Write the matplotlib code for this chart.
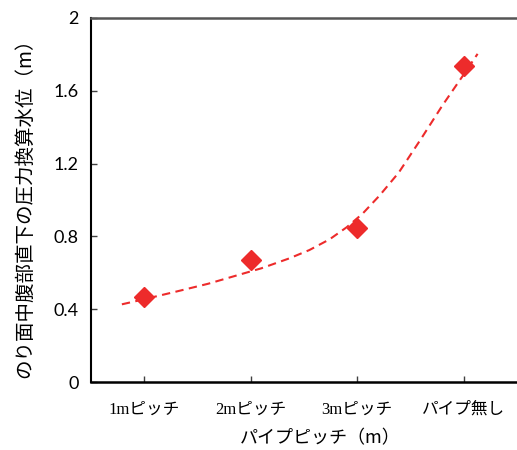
import numpy as np
import matplotlib
matplotlib.use("Agg")
import matplotlib.pyplot as plt

plt.rcParams['font.family'] = ['Lato', 'Noto Sans CJK JP', 'DejaVu Sans']

# measured water level per pipe pitch
categories = ['1mピッチ', '2mピッチ', '3mピッチ', 'パイプ無し']
levels = [0.466, 0.668, 0.848, 1.737]

# dashed trend curve
trend_x = [0.79, 1.0, 1.3, 1.6, 1.87, 2.1, 2.36, 2.55, 2.74, 2.9, 3.05, 3.21, 3.39, 3.6, 3.8, 4.0, 4.13]
trend_y = [0.427, 0.455, 0.497, 0.54, 0.586, 0.625, 0.679, 0.725, 0.784, 0.85, 0.925, 1.025, 1.151, 1.337, 1.52, 1.69, 1.803]

red = '#ED2B2B'

fig = plt.figure(figsize=(5.17, 4.5), dpi=100)
ax = fig.add_axes([0.176, 0.151, 0.824, 0.809])

x = np.arange(1, len(categories) + 1)
ax.plot(trend_x, trend_y, color=red, lw=1.5, ls=(0, (4, 2.6)), zorder=2)
ax.plot(x, levels, ls='none', marker='D', ms=10.5, color=red, mec=red, zorder=3)

ax.set_xlim(0.5, 4.5)
ax.set_ylim(0, 2)
ax.set_yticks([0, 0.4, 0.8, 1.2, 1.6, 2])
ax.set_yticklabels(['0', '0.4', '0.8', '1.2', '1.6', '2'], fontsize=13)
ax.set_xticks(x)
ax.set_xticklabels(categories, fontsize=12, family=['Liberation Serif', 'Noto Sans CJK JP'])
ax.tick_params(axis='both', direction='in', length=4, width=1, color='#404040')
ax.tick_params(axis='y', pad=9)
ax.tick_params(axis='x', pad=14)

ax.spines['right'].set_visible(False)
ax.spines['left'].set_linewidth(1.5)
ax.spines['bottom'].set_linewidth(1.8)
ax.spines['top'].set_linewidth(1.8)
ax.spines['top'].set_color('#555555')

ax.set_ylabel('のり面中腹部直下の圧力換算水位（m）', fontsize=14,
              family=['Noto Sans CJK JP'])
ax.yaxis.set_label_coords(-0.13, 0.49)
ax.set_xlabel('パイプピッチ（m）', fontsize=13, family=['Noto Sans CJK JP'])
ax.xaxis.set_label_coords(0.537, -0.13)

fig.savefig('out.png', dpi=100)
